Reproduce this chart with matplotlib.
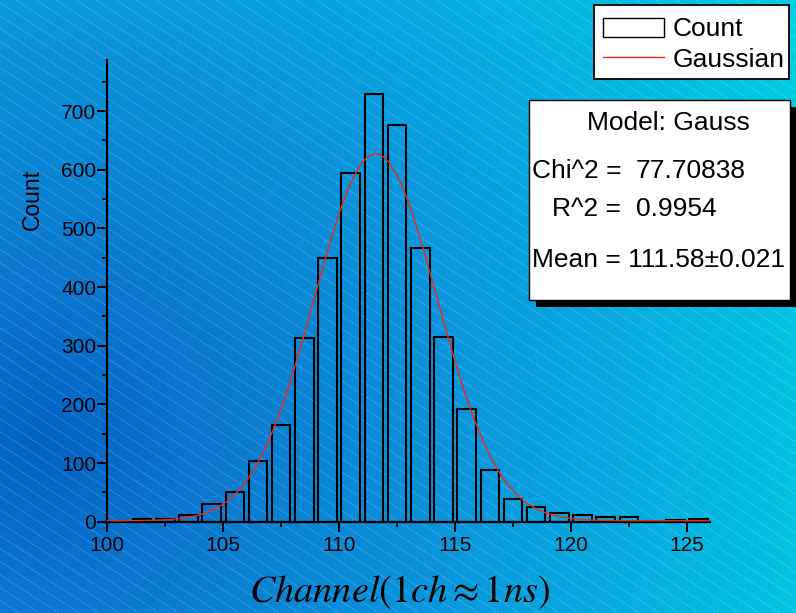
import matplotlib
matplotlib.use("Agg")
import matplotlib.pyplot as plt
import numpy as np
from matplotlib.colors import LinearSegmentedColormap
from matplotlib.patches import Rectangle
from matplotlib.ticker import MultipleLocator, FixedLocator

plt.rcParams["font.family"] = ["Liberation Sans", "DejaVu Sans"]
plt.rcParams["mathtext.fontset"] = "stix"

# ── Data ────────────────────────────────────────────────────────────────
bin_centers = [101.5, 102.5, 103.5, 104.5, 105.5, 106.5, 107.5, 108.5, 109.5,
               110.5, 111.5, 112.5, 113.5, 114.5, 115.5, 116.5, 117.5, 118.5,
               119.5, 120.5, 121.5, 122.5, 123.5, 124.5, 125.5]
counts = [5, 4, 11, 30, 51, 103, 165, 313, 449,
          595, 729, 677, 466, 315, 192, 89, 39, 26,
          15, 12, 9, 8, 2, 3.5, 4.6]

# Gaussian fit parameters
gauss_y0 = 1.7
gauss_mean = 111.58
gauss_sigma = 2.65
gauss_amp = 625

stats_labels = ["Chi^2 =", "R^2 ="]
stats_values = ["77.70838", "0.9954"]
mean_text = "Mean = 111.58\u00b10.021"

W, H = 796, 613
fig = plt.figure(figsize=(W / 100, H / 100), dpi=100)

# ── Background: gradient + diagonal hatch ───────────────────────────────
bg = fig.add_axes([0, 0, 1, 1], zorder=0)
bg.set_xlim(0, W)
bg.set_ylim(H, 0)
bg.axis("off")
yy, xx = np.mgrid[0:H, 0:W]
dist = np.hypot(xx - 40, yy - 440) / 850.0
cmap = LinearSegmentedColormap.from_list(
    "bgblue", [(0.0, "#0262c4"), (0.2, "#0a78d0"), (0.5, "#0a96dc"), (1.0, "#00cde3")])
bg.imshow(np.clip(dist, 0, 1), cmap=cmap, vmin=0, vmax=1,
          extent=[0, W, H, 0], aspect="auto", interpolation="bilinear")
slope = 0.65
for c in np.arange(-W * slope, H + 13, 13):
    bg.plot([0, W], [c, c + slope * W], color="white", alpha=0.28, lw=0.7,
            ls=(0, (1.5, 1.0)))

# ── Main axes ───────────────────────────────────────────────────────────
ax = fig.add_axes([107.3 / W, 1 - 530 / H, (710 - 107.3) / W, (530 - 60) / H], zorder=2)
ax.patch.set_alpha(0)
ax.bar(bin_centers, counts, width=0.8, facecolor="none", edgecolor="black", lw=1.5, zorder=2)

xs = np.linspace(100, 126, 600)
ax.plot(xs, gauss_y0 + gauss_amp * np.exp(-(xs - gauss_mean) ** 2 / (2 * gauss_sigma ** 2)),
        color="#ee2a1a", lw=1.0, zorder=3)

ax.set_xlim(100, 126)
ax.set_ylim(-14, 787)
ax.spines["top"].set_visible(False)
ax.spines["right"].set_visible(False)
ax.spines["bottom"].set_position(("data", 0))
for s in ("left", "bottom"):
    ax.spines[s].set_linewidth(1.6)
ax.xaxis.set_major_locator(MultipleLocator(5))
ax.xaxis.set_minor_locator(MultipleLocator(2.5))
ax.set_yticks(range(0, 701, 100))
ax.yaxis.set_minor_locator(FixedLocator(np.arange(50, 787, 100)))
ax.tick_params(which="major", direction="out", length=7, width=1.4, labelsize=15, pad=1)
ax.tick_params(which="minor", direction="out", length=3.5, width=1.2)
ax.tick_params(axis="x", which="major", pad=3)

fig.text(32 / W, 1 - 199 / H, "Count", rotation=90, ha="center", va="center", fontsize=16.5)
fig.text(399 / W, 1 - 592 / H, r"$Channel(1ch \approx 1ns)$", ha="center", va="center",
         fontsize=27.5)

# ── Overlay: legend and stats box ───────────────────────────────────────
ov = fig.add_axes([0, 0, 1, 1], zorder=5)
ov.set_xlim(0, W)
ov.set_ylim(H, 0)
ov.axis("off")
ov.patch.set_alpha(0)

ov.add_patch(Rectangle((594, 5), 195, 74, facecolor="white", edgecolor="black", lw=1.3))
ov.add_patch(Rectangle((603, 18), 61, 19, facecolor="white", edgecolor="black", lw=1.0))
ov.plot([603, 664], [57, 57], color="#ee2a1a", lw=1.0)
ov.text(673, 29, "Count", fontsize=19, ha="left", va="center")
ov.text(673, 60, "Gaussian", fontsize=19, ha="left", va="center")

ov.add_patch(Rectangle((536, 107), 260, 200, facecolor="black", edgecolor="none"))
ov.add_patch(Rectangle((529, 100), 261, 200, facecolor="white", edgecolor="black", lw=1.0))
ov.text(668, 123, "Model: Gauss", fontsize=19, ha="center", va="center")
for yv, lab, val in zip([171, 209], stats_labels, stats_values):
    ov.text(621, yv, lab, fontsize=19, ha="right", va="center")
    ov.text(636, yv, val, fontsize=19, ha="left", va="center")
ov.text(532, 260, mean_text, fontsize=19, ha="left", va="center")

fig.savefig("out.png", dpi=100)
